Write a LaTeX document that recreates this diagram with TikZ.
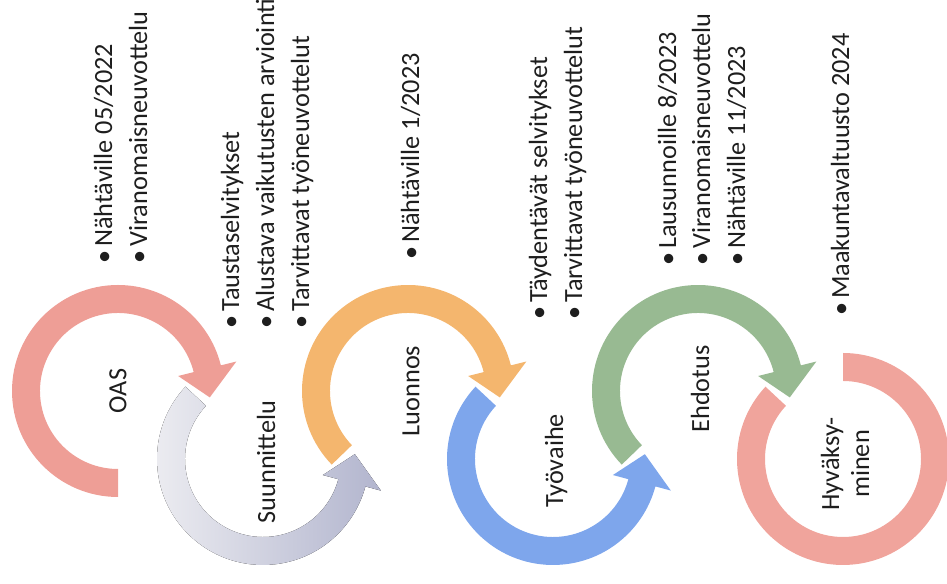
\documentclass[tikz,border=0pt]{standalone}
\usepackage{fontspec}
\setmainfont{Carlito}
\usepackage{tikz}
\usetikzlibrary{positioning}
\usetikzlibrary{calc}
\definecolor{oaspink}{RGB}{238,158,150}
\definecolor{suungraya}{RGB}{238,238,242}
\definecolor{suungrayb}{RGB}{178,181,206}
\definecolor{luonorange}{RGB}{244,182,110}
\definecolor{tyoblue}{RGB}{126,166,236}
\definecolor{ehdgreen}{RGB}{152,186,146}
\definecolor{hyvpink}{RGB}{240,164,156}
\definecolor{textgray}{RGB}{30,30,30}
\newcommand{\itembullet}{\makebox[12.75pt][l]{\textbullet}}

\begin{document}
\begin{tikzpicture}[x=0.75pt, y=0.75pt,
  stage/.style={rotate=90, inner sep=0pt, align=center, text=textgray,
    font=\fontsize{19.7}{22.5}\selectfont},
  item/.style={rotate=90, anchor=base west, inner sep=0pt, text=textgray,
    font=\fontsize{19.7}{23.6}\selectfont}]
  \useasboundingbox (0,0) rectangle (947,584);

  % upper circles, arrow head turning down
  \foreach \cx/\tail/\col in {118/270/oaspink, 408/224/luonorange, 698/224/ehdgreen}
    \fill[\col, shift={(\cx,193)}] (\tail:106) arc[start angle=\tail, end angle=14, radius=106]
      -- (14:122) -- (-4:92) -- (14:62) -- (14:78)
      arc[start angle=14, end angle=\tail, radius=78] -- cycle;

  % lower circles, arrow head turning up
  \fill[left color=suungraya, right color=suungrayb, shift={(263,125)}]
    (137:106) arc[start angle=137, end angle=345, radius=106]
    -- (345:122) -- (363:92) -- (345:62) -- (345:78)
    arc[start angle=345, end angle=137, radius=78] -- cycle;
  \fill[tyoblue, shift={(553,125)}]
    (137:106) arc[start angle=137, end angle=345, radius=106]
    -- (345:122) -- (363:92) -- (345:62) -- (345:78)
    arc[start angle=345, end angle=137, radius=78] -- cycle;
  \fill[hyvpink, shift={(843,125)}]
    (137:106) arc[start angle=137, end angle=450, radius=106]
    -- (450:78) arc[start angle=450, end angle=137, radius=78] -- cycle;

  % stage names
  \node[stage] (oas) at (118,193) {OAS};
  \node[stage] (suunnittelu) at (266,122) {Suunnittelu};
  \node[stage] (luonnos) at (411,193) {Luonnos};
  \node[stage] (tyovaihe) at (556,123) {Työvaihe};
  \node[stage] (ehdotus) at (700,195) {Ehdotus};
  \node[stage] (hyvaksyminen) at (845,120) {Hyväksy-\\minen};

  % bullet lists
  \node[item] (oas-1) at (112,320) {\itembullet Nähtäville 05/2022};
  \node[item] (oas-2) at (147,320) {\itembullet Viranomaisneuvottelu};
  \node[item] (suun-1) at (239,255) {\itembullet Taustaselvitykset};
  \node[item] (suun-2) at (274,255) {\itembullet Alustava vaikutusten arviointi};
  \node[item] (suun-3) at (309,255) {\itembullet Tarvittavat työneuvottelut};
  \node[item] (luon-1) at (419,324) {\itembullet Nähtäville 1/2023};
  \node[item] (tyo-1) at (547,264) {\itembullet Täydentävät selvitykset};
  \node[item] (tyo-2) at (582,264) {\itembullet Tarvittavat työneuvottelut};
  \node[item] (ehd-1) at (676,318) {\itembullet Lausunnoille 8/2023};
  \node[item] (ehd-2) at (710,318) {\itembullet Viranomaisneuvottelu};
  \node[item] (ehd-3) at (745,318) {\itembullet Nähtäville 11/2023};
  \node[item] (hyv-1) at (849,268) {\itembullet Maakuntavaltuusto 2024};
\end{tikzpicture}
\end{document}
